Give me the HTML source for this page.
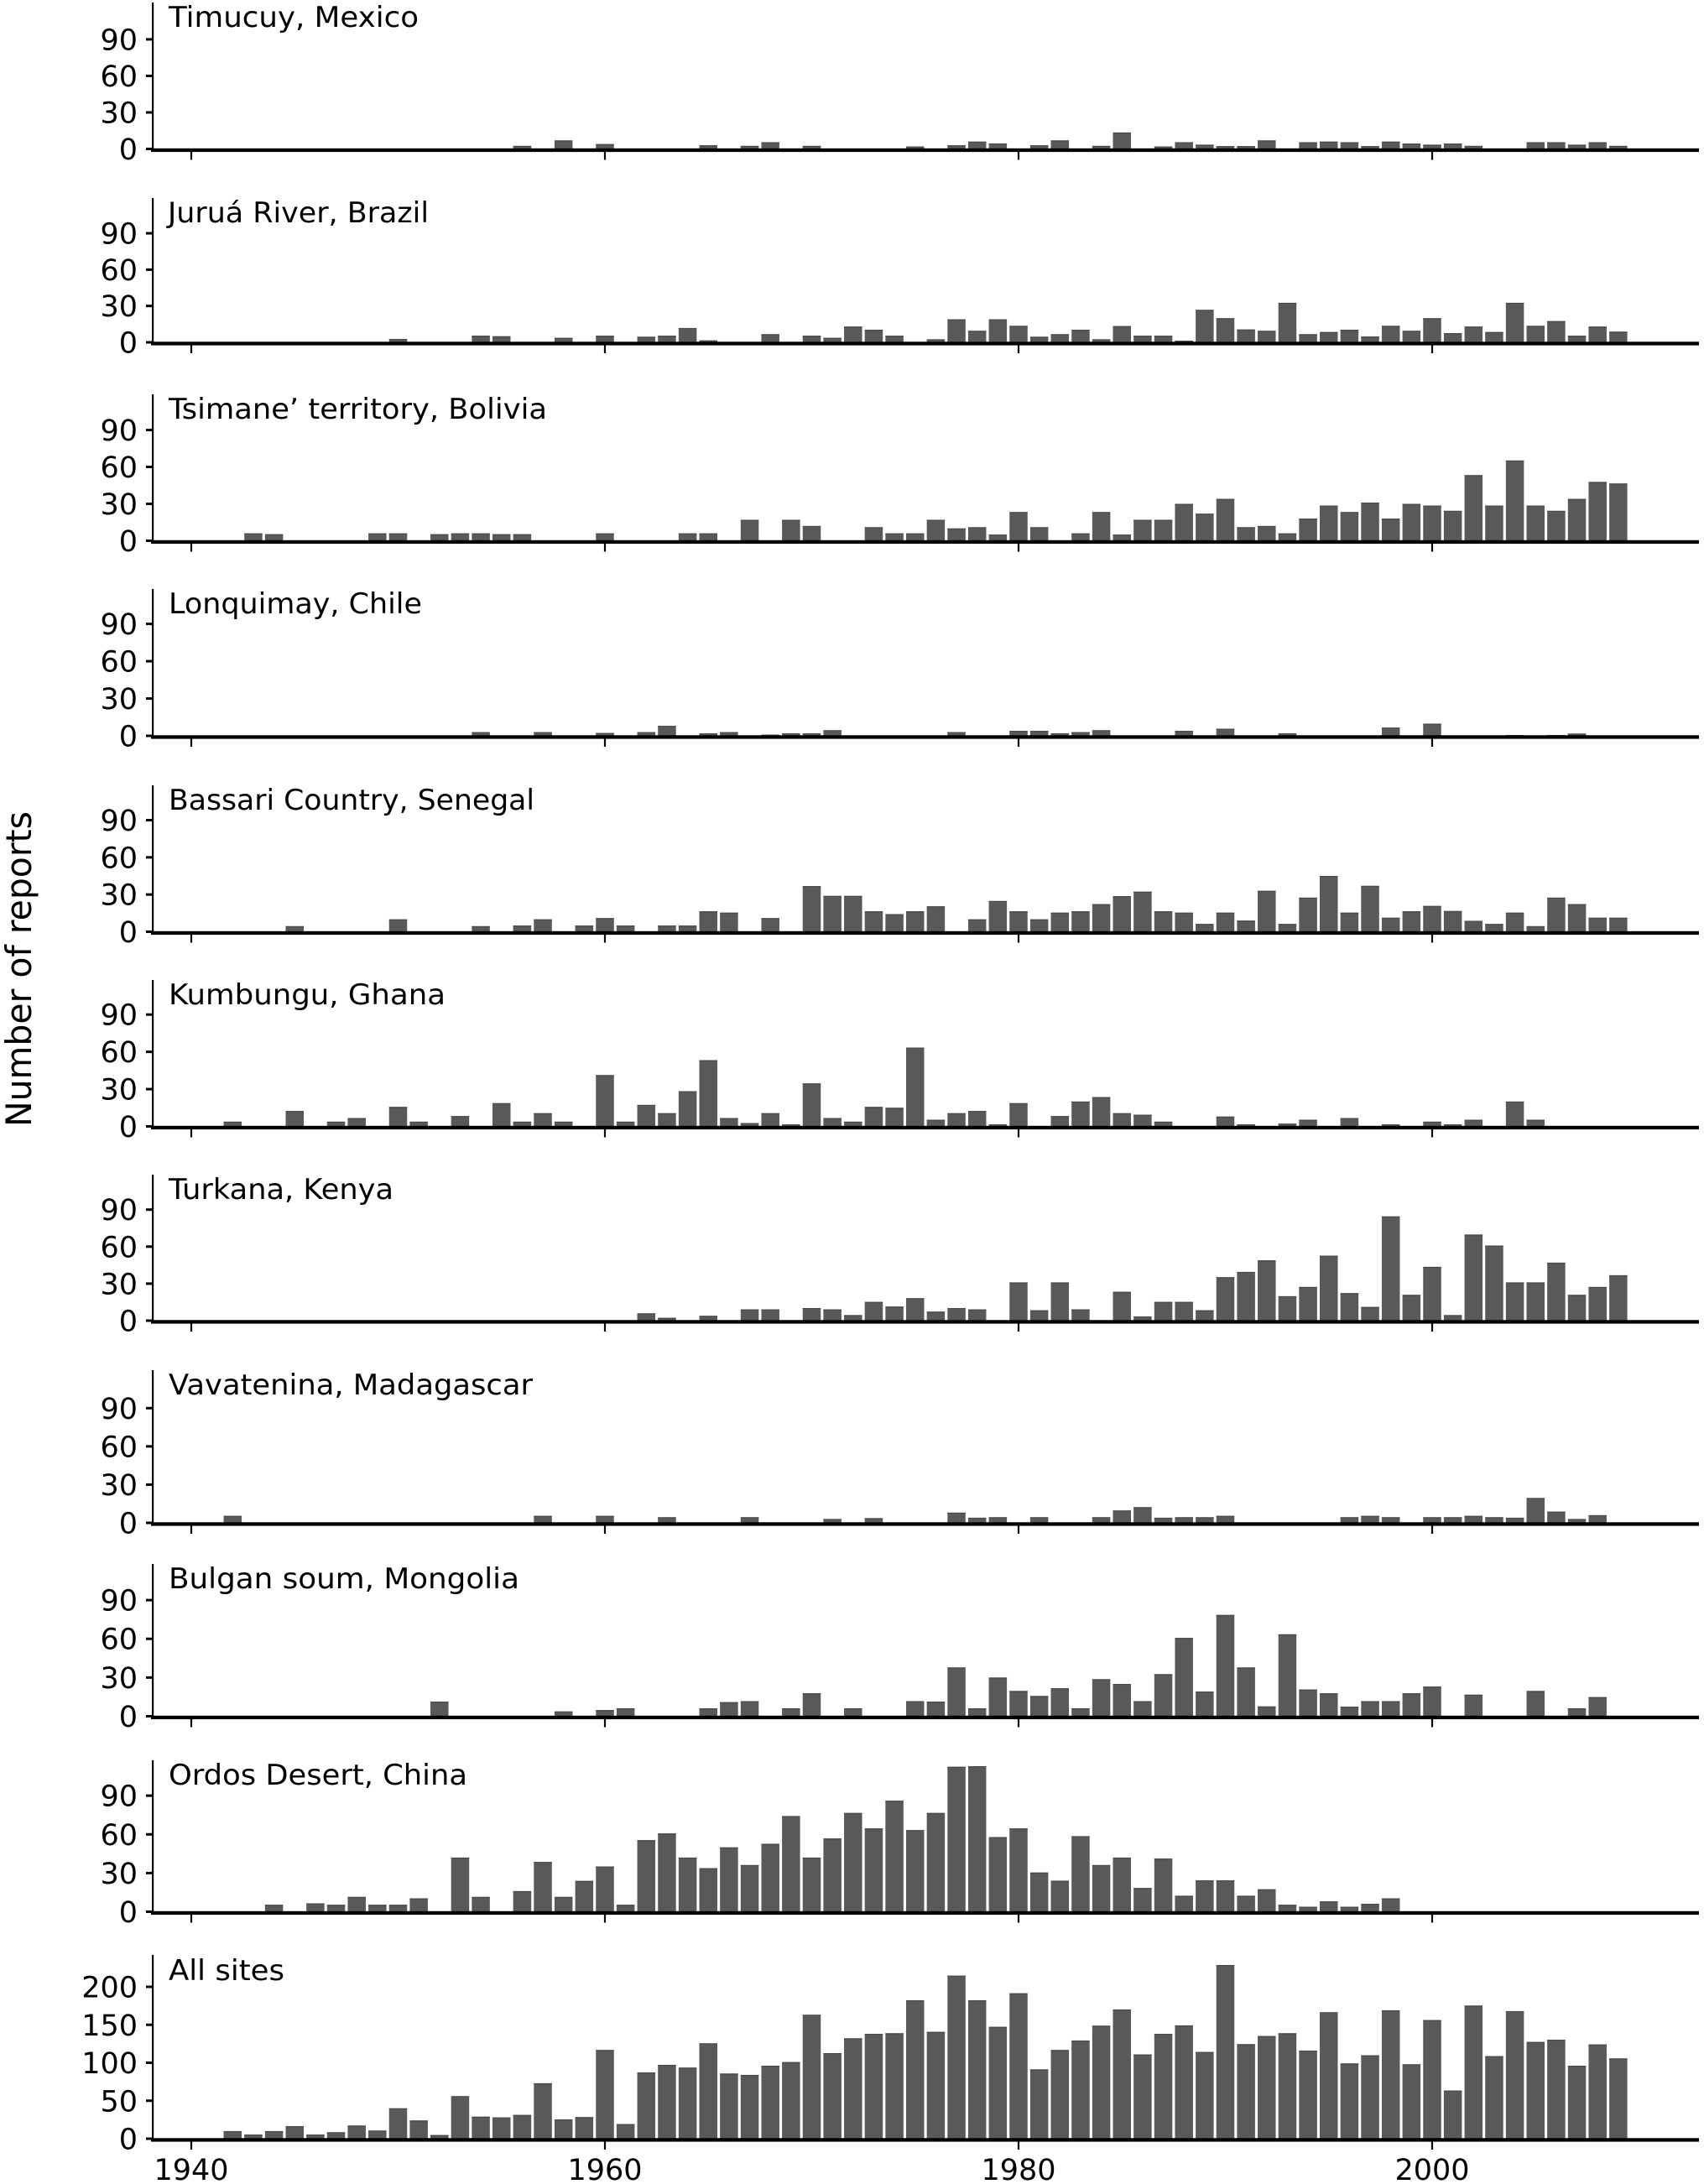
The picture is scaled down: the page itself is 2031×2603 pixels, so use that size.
<!DOCTYPE html>
<html>
<head>
<meta charset="utf-8">
<style>
  html,body{margin:0;padding:0;background:#fff;}
  svg{display:block;}
  .t{font-family:"DejaVu Sans","Liberation Sans",sans-serif;font-size:34px;fill:#000;}
  .yl{font-family:"DejaVu Sans","Liberation Sans",sans-serif;font-size:35px;fill:#000;text-anchor:end;}
  .xl{font-family:"DejaVu Sans","Liberation Sans",sans-serif;font-size:35px;fill:#000;text-anchor:middle;}
  .yt{font-family:"DejaVu Sans","Liberation Sans",sans-serif;font-size:42px;fill:#000;text-anchor:middle;}
</style>
</head>
<body>
<svg id="chart" xmlns="http://www.w3.org/2000/svg" width="2031" height="2603" viewBox="0 0 2031 2603">
  <rect x="0" y="0" width="2031" height="2603" fill="#fff"/>
  <g id="bars"></g>
  <g id="axes"></g>

  <!-- Panel titles -->
  <text class="t" x="201" y="32" textLength="298" lengthAdjust="spacingAndGlyphs">Timucuy, Mexico</text>
  <text class="t" x="200" y="265" textLength="311" lengthAdjust="spacingAndGlyphs">Juruá River, Brazil</text>
  <text class="t" x="201" y="499" textLength="451" lengthAdjust="spacingAndGlyphs">Tsimane’ territory, Bolivia</text>
  <text class="t" x="201" y="731" textLength="302" lengthAdjust="spacingAndGlyphs">Lonquimay, Chile</text>
  <text class="t" x="201" y="965" textLength="436" lengthAdjust="spacingAndGlyphs">Bassari Country, Senegal</text>
  <text class="t" x="201" y="1197" textLength="330" lengthAdjust="spacingAndGlyphs">Kumbungu, Ghana</text>
  <text class="t" x="201" y="1429" textLength="268" lengthAdjust="spacingAndGlyphs">Turkana, Kenya</text>
  <text class="t" x="201" y="1662" textLength="434" lengthAdjust="spacingAndGlyphs">Vavatenina, Madagascar</text>
  <text class="t" x="201" y="1893" textLength="418" lengthAdjust="spacingAndGlyphs">Bulgan soum, Mongolia</text>
  <text class="t" x="201" y="2127" textLength="356" lengthAdjust="spacingAndGlyphs">Ordos Desert, China</text>
  <text class="t" x="201" y="2360" textLength="138" lengthAdjust="spacingAndGlyphs">All sites</text>

  <!-- Y tick labels -->
  <text class="yl" x="164" y="190">0</text><text class="yl" x="164" y="146.5">30</text><text class="yl" x="164" y="102.9">60</text><text class="yl" x="164" y="59.4">90</text>
  <text class="yl" x="164" y="420.5">0</text><text class="yl" x="164" y="377.2">30</text><text class="yl" x="164" y="333.9">60</text><text class="yl" x="164" y="290.5">90</text>
  <text class="yl" x="164" y="657">0</text><text class="yl" x="164" y="613">30</text><text class="yl" x="164" y="569">60</text><text class="yl" x="164" y="525">90</text>
  <text class="yl" x="164" y="889.5">0</text><text class="yl" x="164" y="845">30</text><text class="yl" x="164" y="800.6">60</text><text class="yl" x="164" y="756.1">90</text>
  <text class="yl" x="164" y="1123">0</text><text class="yl" x="164" y="1078.7">30</text><text class="yl" x="164" y="1034.3">60</text><text class="yl" x="164" y="990">90</text>
  <text class="yl" x="164" y="1355">0</text><text class="yl" x="164" y="1310.6">30</text><text class="yl" x="164" y="1266.1">60</text><text class="yl" x="164" y="1221.7">90</text>
  <text class="yl" x="164" y="1586.5">0</text><text class="yl" x="164" y="1542.4">30</text><text class="yl" x="164" y="1498.3">60</text><text class="yl" x="164" y="1454.2">90</text>
  <text class="yl" x="164" y="1827.5">0</text><text class="yl" x="164" y="1781.9">30</text><text class="yl" x="164" y="1736.4">60</text><text class="yl" x="164" y="1690.8">90</text>
  <text class="yl" x="164" y="2058">0</text><text class="yl" x="164" y="2011.9">30</text><text class="yl" x="164" y="1965.7">60</text><text class="yl" x="164" y="1919.6">90</text>
  <text class="yl" x="164" y="2291">0</text><text class="yl" x="164" y="2244.9">30</text><text class="yl" x="164" y="2198.8">60</text><text class="yl" x="164" y="2152.7">90</text>
  <text class="yl" x="164" y="2561.5">0</text><text class="yl" x="164" y="2516.3">50</text><text class="yl" x="164" y="2471">100</text><text class="yl" x="164" y="2425.8">150</text><text class="yl" x="164" y="2380.5">200</text>

  <!-- X tick labels -->
  <text class="xl" x="228" y="2598">1940</text>
  <text class="xl" x="721" y="2598">1960</text>
  <text class="xl" x="1214" y="2598">1980</text>
  <text class="xl" x="1707" y="2598">2000</text>

  <!-- Y axis title -->
  <text class="yt" transform="translate(37,1155) rotate(-90)" x="0" y="0" textLength="376" lengthAdjust="spacingAndGlyphs">Number of reports</text>
</svg>

<script>
(function(){
  var NS = "http://www.w3.org/2000/svg";
  var barsG = document.getElementById("bars");
  var axesG = document.getElementById("axes");
  function rect(g,x,y,w,h,fill){
    var r=document.createElementNS(NS,"rect");
    r.setAttribute("x",x.toFixed(2));r.setAttribute("y",y.toFixed(2));
    r.setAttribute("width",w.toFixed(2));r.setAttribute("height",h.toFixed(2));
    r.setAttribute("fill",fill);g.appendChild(r);
  }
  function yx(year){return 228 + (year-1940)*24.65;}

  var allVals=[10,5.5,10,16.6,5.5,8.5,17.3,10.7,40,24,4.8,56,29,28,31.3,73,25.4,28.4,116.8,19.2,87.3,97.2,93.6,125.6,85.8,84,96.1,100.9,163.2,112.7,132.2,138.1,138.9,182.3,140.7,214.7,182.3,147.3,191.5,91.3,116.8,129.3,148.8,170.2,110.9,138.1,149.2,114.2,228.7,124.5,135.2,138.9,116,166.5,99.1,109.8,169.1,98,156.2,63.4,175.3,108.7,168,127.4,130.4,96.1,124.1,105.7];
  var allMap={};for(var i=0;i<allVals.length;i++){allMap[1942+i]=allVals[i];}

  var panels=[
    {b:177.5,u:1.451,t:3,ticks:[0,30,60,90],d:{1956:2.5,1958:7,1960:4,1965:3,1967:2.5,1968:5.5,1970:2.5,1975:2,1977:3,1978:6,1979:4.5,1981:3,1982:7,1984:2.5,1985:13.5,1987:2,1988:5.5,1989:3.5,1990:2.3,1991:2.3,1992:7,1994:5.5,1995:6,1996:5.5,1997:2.3,1998:6,1999:4.4,2000:3.5,2001:4.4,2002:2.5,2005:5.5,2006:5.5,2007:3.5,2008:5.5,2009:2.5}},
    {b:408,u:1.444,t:236,ticks:[0,30,60,90],d:{1950:2.8,1954:5.5,1955:5,1958:3.7,1960:5.5,1962:4.6,1963:5.5,1964:11.8,1965:1.6,1968:6.7,1970:5.5,1971:3.7,1972:13,1973:10.4,1974:5.5,1976:2.5,1977:19,1978:9.5,1979:19,1980:13.6,1981:4.6,1982:6.7,1983:10.4,1984:2.5,1985:13.4,1986:5.5,1987:5.5,1988:1.4,1989:26.8,1990:19.9,1991:10.6,1992:9.5,1993:32.6,1994:6.7,1995:8.5,1996:10.4,1997:4.8,1998:13.6,1999:9.5,2000:19.9,2001:7.6,2002:13,2003:8.5,2004:32.6,2005:13.6,2006:17.5,2007:5.5,2008:13,2009:8.8}},
    {b:644.5,u:1.467,t:470,ticks:[0,30,60,90],d:{1943:6,1944:5.3,1949:6,1950:6,1952:5.3,1953:6,1954:6,1955:5.3,1956:5.3,1960:6,1964:6,1965:6,1967:17,1969:17,1970:12,1973:11,1974:6,1975:6,1976:17,1977:10,1978:11,1979:5,1980:23.3,1981:11,1983:6,1984:23.3,1985:5,1986:17,1987:17,1988:30,1989:22,1990:34,1991:11,1992:12,1993:6,1994:18,1995:28.6,1996:23.3,1997:31,1998:18,1999:30,2000:28.6,2001:24.3,2002:53.3,2003:28.6,2004:65.2,2005:28.6,2006:24.3,2007:34,2008:47.8,2009:46.5}},
    {b:877,u:1.482,t:702,ticks:[0,30,60,90],d:{1954:3,1957:3,1960:2.3,1962:3,1963:8,1965:2,1966:3,1968:1,1969:2,1970:2,1971:4.5,1977:3,1980:4,1981:4,1982:2,1983:3,1984:4.5,1988:4,1990:5.7,1993:2,1998:6.6,2000:9.8,2004:0.7,2006:0.7,2007:1.8}},
    {b:1110.5,u:1.478,t:936,ticks:[0,30,60,90],d:{1945:4.5,1950:10,1954:4.5,1956:5,1957:10,1959:5,1960:11,1961:5,1963:5,1964:5,1965:16.5,1966:15.4,1968:11,1970:36.8,1971:28.9,1972:28.9,1973:16.5,1974:14.2,1975:16.5,1976:20.5,1978:10,1979:24.8,1980:16.5,1981:10,1982:15.4,1983:16.5,1984:22.3,1985:28.7,1986:32.3,1987:16.5,1988:15.4,1989:6.3,1990:15.4,1991:9,1992:33,1993:6.3,1994:27.5,1995:45,1996:15.4,1997:37,1998:11.3,1999:16.5,2000:20.8,2001:16.7,2002:8.8,2003:6.3,2004:15.4,2005:4.5,2006:27.5,2007:22.3,2008:11.3,2009:11.3}},
    {b:1342.5,u:1.481,t:1168,ticks:[0,30,60,90],d:{1942:3.8,1945:12.4,1947:3.8,1948:6.7,1950:15.7,1951:3.8,1953:8.3,1955:18.7,1956:3.8,1957:10.6,1958:3.8,1960:41.3,1961:3.8,1962:17.3,1963:10.6,1964:28.3,1965:53.3,1966:6.7,1967:2.7,1968:10.6,1969:1.6,1970:34.6,1971:6.7,1972:3.8,1973:15.7,1974:15,1975:63.4,1976:5.4,1977:10.6,1978:12.4,1979:1.6,1980:18.7,1982:8.3,1983:20,1984:23.6,1985:10.6,1986:9.4,1987:3.8,1990:7.9,1991:1.6,1993:2.2,1994:5.4,1996:6.7,1998:1.6,2000:3.8,2001:1.6,2002:5.4,2004:20,2005:5.4}},
    {b:1574,u:1.47,t:1400,ticks:[0,30,60,90],d:{1962:5.9,1963:2.3,1965:3.9,1967:9.1,1968:9.1,1970:10.2,1971:9.1,1972:4.5,1973:15.2,1974:11.4,1975:18.2,1976:7.3,1977:10.2,1978:9.1,1980:31,1981:8.4,1982:31,1983:9.1,1985:23.4,1986:3.4,1987:15.2,1988:15.2,1989:8.4,1990:35.2,1991:39.5,1992:48.9,1993:19.8,1994:27.3,1995:52.7,1996:22.3,1997:11.1,1998:84.5,1999:20.9,2000:43.6,2001:4.5,2002:69.8,2003:60.9,2004:31,2005:31,2006:47,2007:20.9,2008:27.3,2009:36.8}},
    {b:1815,u:1.519,t:1633,ticks:[0,30,60,90],d:{1942:5.5,1957:5.5,1960:5.5,1963:4.4,1967:4.4,1971:3,1973:3.7,1977:8,1978:4,1979:4.4,1981:4.4,1984:4.4,1985:9.7,1986:12.3,1987:4,1988:4.4,1989:4.4,1990:5.5,1996:4.4,1997:5.5,1998:4.4,2000:4.4,2001:4.4,2002:5.5,2003:4.4,2004:4,2005:19.5,2006:8.8,2007:3,2008:6}},
    {b:2045.5,u:1.538,t:1864,ticks:[0,30,60,90],d:{1952:11.3,1958:3.7,1960:4.8,1961:6.1,1965:6.1,1966:10.9,1967:11.7,1969:6.1,1970:17.8,1972:6.1,1975:11.7,1976:11.3,1977:37.8,1978:6.1,1979:30,1980:19.6,1981:15.7,1982:21.7,1983:6.1,1984:28.7,1985:25,1986:11.7,1987:32.6,1988:60.7,1989:19.1,1990:78.5,1991:37.8,1992:7.6,1993:63.5,1994:20.7,1995:17.8,1996:7.4,1997:11.7,1998:11.7,1999:17.8,2000:23,2002:16.7,2005:19.6,2007:6.1,2008:14.8}},
    {b:2278.5,u:1.537,t:2098,ticks:[0,30,60,90],d:{1944:5.4,1946:6.5,1947:5.4,1948:11.5,1949:5.4,1950:5.4,1951:10.4,1953:42,1954:11.5,1956:16,1957:38.6,1958:11.5,1959:23.9,1960:35.1,1961:5.4,1962:55.5,1963:60.7,1964:42,1965:33.8,1966:49.9,1967:36.2,1968:52.7,1969:74.2,1970:42,1971:56.8,1972:76.6,1973:64.6,1974:86.1,1975:63.3,1976:76.6,1977:112.4,1978:112.8,1979:57.9,1980:64.6,1981:30.4,1982:24.1,1983:58.6,1984:36.2,1985:42,1986:18.4,1987:41.2,1988:12.4,1989:24.3,1990:24.3,1991:12.4,1992:17.4,1993:5.4,1994:3.9,1995:8,1996:3.9,1997:6.1,1998:10.4}},
    {b:2549,u:0.905,t:2330,ticks:[0,50,100,150,200],d:allMap}
  ];

  var BW=21.5;
  panels.forEach(function(p){
    for(var k in p.d){
      var yr=+k, v=p.d[k], h=v*p.u;
      var cx=yx(yr);
      rect(barsG,cx-BW/2,p.b-h,BW,h,"#595959");
      if(h>2) rect(barsG,cx-BW/2,p.b-h,BW,1.2,"#4a4a4a");
    }
    rect(axesG,181,p.t,2.2,p.b-p.t+3,"#000");
    p.ticks.forEach(function(tv){
      var ty=p.b-tv*p.u;
      rect(axesG,174,ty-1.5,8,3,"#000");
    });
    rect(axesG,180,p.b-0.7,1845,4.3,"#000");
    [1940,1960,1980,2000].forEach(function(yr){
      rect(axesG,yx(yr)-1.1,p.b+3,2.2,10,"#000");
    });
  });
})();
</script>
</body>
</html>
